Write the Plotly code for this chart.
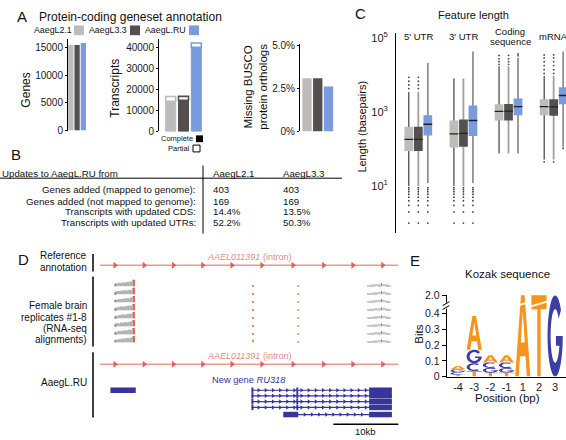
import math
import plotly.graph_objects as go

W, H = 566, 440
FONT = "Liberation Sans, Arial, Helvetica, sans-serif"


def PX(x):
    return x / W


def PY(y):
    return 1 - y / H


# ------------------------------------------------------------------ DATA
# Panel A
ASSEMBLIES = ["AaegL2.1", "AaegL3.3", "AaegL.RU"]
GENE_COUNTS = [15500, 15520, 15880]
TX_COMPLETE = [14400, 14900, 40300]
TX_PARTIAL = [2350, 1900, 2000]
BUSCO_MISSING_PCT = [3.10, 3.10, 2.62]
GENE_TICKS = [0, 5000, 10000, 15000]
TX_TICKS = [0, 10000, 20000, 30000, 40000]
BUSCO_TICKS = [0, 2.5, 5.0]
BUSCO_TICKTEXT = ["0%", "2.5%", "5.0%"]

# Panel B
TABLE_HEADER = ["Updates to AaegL.RU from", "AaegL2.1", "AaegL3.3"]
TABLE_ROWS = ["Genes added (mapped to genome):",
              "Genes added (not mapped to genome):",
              "Transcripts with updated CDS:",
              "Transcripts with updated UTRs:"]
TABLE_L21 = ["403", "169", "14.4%", "52.2%"]
TABLE_L33 = ["403", "169", "13.5%", "50.3%"]

# Panel C  (feature x assembly), lengths in bp
FEATURE_LABELS = [["5' UTR"], ["3' UTR"], ["Coding", "sequence"], ["mRNA"]]
LEN_Q1 = [[88, 88, 232], [110, 115, 224], [590, 590, 820], [820, 800, 1620]]
LEN_MED = [[182, 182, 468], [257, 265, 590], [1040, 1060, 1400], [1400, 1380, 2800]]
LEN_Q3 = [[398, 398, 820], [590, 630, 1500], [1620, 1650, 2340], [2230, 2230, 4700]]
LEN_UPPER = [[3470, 3470, 21000], [8100, 8100, 43000], [17400, 17400, 29000], [9500, 9500, 43000]]
LEN_LOWER = [[10, 10, 12], [10, 10, 12], [76, 76, 76], [52, 52, 115]]
LEN_OUT_HIGH = [
    [[4300, 5400, 6800, 8700], [4300, 5400, 6800, 8700], []],
    [[], [], []],
    [[19500, 23000, 27500, 34000], [19500, 23000, 27500, 34000], [33000, 37000]],
    [[11000, 14000, 18000, 23000, 29000, 35000], [11000, 14000, 18000, 23000, 29000, 35000], []],
]
LEN_OUT_LOW = [
    [[1, 2, 3, 4, 5, 6, 7, 8, 9], [1, 2, 3, 4, 5, 6, 7, 8, 9], [1, 2, 3, 4, 5, 6, 7, 8, 9]],
    [[1, 2, 3, 4, 5, 6, 7, 8, 9], [1, 2, 3, 4, 5, 6, 7, 8, 9], [1, 2, 3, 4, 5, 6, 7, 8, 9]],
    [[], [], []],
    [[45], [45], [105]],
]
LEN_TICKS = [10, 1000, 100000]
LEN_TICKTEXT = ["10<sup>1</sup>", "10<sup>3</sup>", "10<sup>5</sup>"]

# Panel D  (genomic coordinates in kb)
REF_GENE_SPAN_KB = [0.0, 45.9]
REF_STRAND_ARROWS_KB = [2.3, 6.8, 11.3, 15.8, 20.3, 24.9, 29.7, 34.4, 38.9, 43.5]
COV_LOCUS1_KB = [2.45, 2.75, 3.05, 3.35, 3.65, 3.95, 4.25, 4.55, 4.85, 5.15]
COV_LOCUS1 = [
    [0.35, 0.45, 0.55, 0.50, 0.60, 0.55, 0.65, 0.70, 0.75, 1.00],
    [0.30, 0.50, 0.50, 0.55, 0.60, 0.60, 0.60, 0.65, 0.70, 1.00],
    [0.35, 0.40, 0.50, 0.50, 0.55, 0.60, 0.65, 0.60, 0.75, 0.95],
    [0.30, 0.45, 0.55, 0.60, 0.55, 0.60, 0.70, 0.70, 0.75, 1.00],
    [0.25, 0.40, 0.50, 0.55, 0.60, 0.55, 0.65, 0.70, 0.70, 0.95],
    [0.30, 0.50, 0.45, 0.60, 0.55, 0.65, 0.60, 0.70, 0.80, 1.00],
    [0.30, 0.40, 0.55, 0.50, 0.60, 0.60, 0.65, 0.75, 0.70, 1.00],
    [0.35, 0.45, 0.50, 0.55, 0.60, 0.60, 0.70, 0.65, 0.75, 0.95],
]
COV_LOCUS4_KB = [41.3, 41.7, 42.1, 42.5, 42.9, 43.3, 43.7, 44.1, 44.5]
COV_LOCUS4 = [
    [0.20, 0.25, 0.30, 0.35, 0.30, 0.40, 0.35, 0.30, 0.20],
    [0.20, 0.20, 0.30, 0.30, 0.35, 0.40, 0.40, 0.30, 0.20],
    [0.15, 0.25, 0.30, 0.35, 0.35, 0.45, 0.35, 0.25, 0.20],
    [0.20, 0.25, 0.25, 0.35, 0.30, 0.40, 0.40, 0.30, 0.15],
    [0.20, 0.20, 0.30, 0.30, 0.35, 0.35, 0.40, 0.30, 0.20],
    [0.15, 0.25, 0.30, 0.30, 0.35, 0.40, 0.35, 0.30, 0.20],
    [0.20, 0.25, 0.25, 0.35, 0.30, 0.45, 0.40, 0.25, 0.20],
    [0.15, 0.20, 0.30, 0.30, 0.35, 0.40, 0.35, 0.30, 0.15],
]
COV_SPOT_KB = [23.5, 30.5]
COV_SPOTS = [[0.20, 0.15], [0.18, 0.18], [0.18, 0.15], [0.20, 0.15],
             [0.18, 0.18], [0.18, 0.15], [0.20, 0.18], [0.40, 0.22]]
MISMATCH_RED_KB = [5.2, 43.3]
MISMATCH_RED = [1.0, 0.45]
MISMATCH_BLUE_KB = [2.4]
MISMATCH_BLUE = [0.4]
RU_SINGLE_EXON_KB = [1.6, 5.5]
RU318_TRANSCRIPTS_KB = [
    [(23.3, 23.6), (30.2, 30.5), (41.4, 44.9)],
    [(23.3, 23.6), (30.2, 30.5), (41.4, 44.9)],
    [(23.3, 23.6), (30.2, 30.5), (41.4, 44.9)],
    [(23.3, 23.6), (30.2, 30.5), (41.4, 44.9)],
    [(28.2, 30.5), (41.4, 44.9)],
]
SCALE_BAR_KB = 10

# Panel E  (information content, bits)
LOGO_POS = ["-4", "-3", "-2", "-1", "1", "2", "3"]
BITS_A = [0.022, 0.215, 0.045, 0.045, 2.0, 0.0, 0.0]
BITS_C = [0.016, 0.050, 0.035, 0.036, 0.0, 0.0, 0.0]
BITS_G = [0.018, 0.085, 0.030, 0.028, 0.0, 0.0, 2.0]
BITS_T = [0.012, 0.035, 0.025, 0.026, 0.0, 2.0, 0.0]
BITS_TICKS = [0, 0.1, 0.2, 0.3, 0.4, 2.0]

# ------------------------------------------------------------------ STYLE
ASM_COLORS = ["#bebcba", "#545050", "#7b9cdc"]
WHISKER_COLORS = ["#1a1a1a", "#a0a0a0", "#909090"]
WHISKER_WIDTHS = [1.0, 1.8, 1.8]
RED_LINE = "#ec9a91"
RED_ARROW = "#e0625a"
RED_TEXT = "#e58a80"
GENE_BLUE = "#35359c"
COV_GRAY = "#b4b4b4"
LOGO_COLORS = {"A": "#f7941e", "T": "#f7941e", "C": "#3d3da6", "G": "#3d3da6"}

fig = go.Figure()
annotations = []
shapes = []


def ann(text, x, y, size=10, xanchor="center", yanchor="middle", color="#111111",
        angle=0, xref="paper", yref="paper", align="center"):
    annotations.append(dict(
        text=text, x=PX(x) if xref == "paper" else x, y=PY(y) if yref == "paper" else y,
        xref=xref, yref=yref, showarrow=False, xanchor=xanchor, yanchor=yanchor,
        textangle=angle, align=align, borderpad=0,
        font=dict(size=size, color=color, family=FONT)))


def pline(x0, y0, x1, y1, color="black", width=1):
    shapes.append(dict(type="line", xref="paper", yref="paper",
                       x0=PX(x0), y0=PY(y0), x1=PX(x1), y1=PY(y1),
                       line=dict(color=color, width=width)))


def prect(x0, y0, x1, y1, fill, line_color=None, width=0):
    shapes.append(dict(type="rect", xref="paper", yref="paper",
                       x0=PX(x0), y0=PY(y0), x1=PX(x1), y1=PY(y1),
                       fillcolor=fill, line=dict(color=line_color or fill, width=width)))


# ------------------------------------------------------------------ PANEL A
idx = list(range(len(ASSEMBLIES)))
fig.add_trace(go.Bar(x=idx, y=GENE_COUNTS, width=0.84, xaxis="x", yaxis="y",
                     marker=dict(color=ASM_COLORS, line=dict(width=0))))
fig.add_trace(go.Bar(x=idx, y=TX_COMPLETE, width=0.78, xaxis="x2", yaxis="y2",
                     marker=dict(color=ASM_COLORS, line=dict(color=ASM_COLORS, width=1))))
fig.add_trace(go.Bar(x=idx, y=TX_PARTIAL, base=TX_COMPLETE, width=0.78, xaxis="x2", yaxis="y2",
                     marker=dict(color="white", line=dict(color=ASM_COLORS, width=1.6))))
fig.add_trace(go.Bar(x=idx, y=BUSCO_MISSING_PCT, width=0.87, xaxis="x3", yaxis="y3",
                     marker=dict(color=ASM_COLORS, line=dict(width=0))))

ann("A", 22, 11, size=15)
ann("Protein-coding geneset annotation", 38, 11, size=12, xanchor="left")
legend_text_x = [53, 108, 166]
legend_sq_x = [74, 130, 189]
for i, name in enumerate(ASSEMBLIES):
    ann(name, legend_text_x[i], 25, size=8.8)
    prect(legend_sq_x[i], 20, legend_sq_x[i] + 10, 30, ASM_COLORS[i])
ann("Genes", 26, 87, size=12, angle=-90)
ann("Transcripts", 115, 85, size=12, angle=-90)
ann("Missing BUSCO<br>protein orthologs", 256, 83, size=11.5, angle=-90)
ann("Complete", 194, 136.5, size=7.5, xanchor="right")
prect(196, 133, 203, 140, "black")
ann("Partial", 191, 146.5, size=7.5, xanchor="right")
prect(193, 143, 200, 150, "white", "black", 1)

# ------------------------------------------------------------------ PANEL B
ann("B", 16, 153, size=15)
ann(TABLE_HEADER[0], 1, 172, size=9.7, xanchor="left")
ann(TABLE_HEADER[1], 212, 172, size=9.7, xanchor="left")
ann(TABLE_HEADER[2], 282, 172, size=9.7, xanchor="left")
pline(0, 177, 342, 177, width=1)
pline(203, 164, 203, 234, width=1)
row_y = [189, 200.5, 211.5, 223]
for i, lab in enumerate(TABLE_ROWS):
    ann(lab, 197, row_y[i], size=9.7, xanchor="right")
    ann(TABLE_L21[i], 212, row_y[i], size=9.7, xanchor="left")
    ann(TABLE_L33[i], 282, row_y[i], size=9.7, xanchor="left")

# ------------------------------------------------------------------ PANEL C
GROUP_STEP = 4.75
BOX_W = 0.92


def cpos(g, s):
    return g * GROUP_STEP + s


for s in range(3):
    wx, wy = [], []
    for g in range(4):
        p = cpos(g, s)
        wx += [p, p, None]
        wy += [LEN_LOWER[g][s], LEN_UPPER[g][s], None]
    fig.add_trace(go.Scatter(x=wx, y=wy, mode="lines", xaxis="x4", yaxis="y4",
                             line=dict(color=WHISKER_COLORS[s], width=WHISKER_WIDTHS[s])))
for s in range(3):
    bx, by = [], []
    for g in range(4):
        p = cpos(g, s)
        h = BOX_W / 2
        bx += [p - h, p + h, p + h, p - h, p - h, None]
        by += [LEN_Q1[g][s], LEN_Q1[g][s], LEN_Q3[g][s], LEN_Q3[g][s], LEN_Q1[g][s], None]
    fig.add_trace(go.Scatter(x=bx, y=by, mode="lines", fill="toself", fillcolor=ASM_COLORS[s],
                             line=dict(width=0, color=ASM_COLORS[s]), xaxis="x4", yaxis="y4"))
mx, my = [], []
for s in range(3):
    for g in range(4):
        p = cpos(g, s)
        mx += [p - BOX_W / 2, p + BOX_W / 2, None]
        my += [LEN_MED[g][s], LEN_MED[g][s], None]
fig.add_trace(go.Scatter(x=mx, y=my, mode="lines", line=dict(color="#202020", width=1.3),
                         xaxis="x4", yaxis="y4"))
ox, oy = [], []
for s in range(3):
    for g in range(4):
        for v in LEN_OUT_HIGH[g][s] + LEN_OUT_LOW[g][s]:
            ox.append(cpos(g, s))
            oy.append(v)
fig.add_trace(go.Scatter(x=ox, y=oy, mode="markers", xaxis="x4", yaxis="y4",
                         marker=dict(size=1.8, color="#444444", line=dict(width=0))))

ann("C", 360, 8, size=15)
ann("Feature length", 473, 9, size=11)
ann("Length (basepairs)", 362, 124, size=11, angle=-90)
for g, lines in enumerate(FEATURE_LABELS):
    if len(lines) == 1:
        ann(lines[0], cpos(g, 1), 31.5, size=9.5, xref="x4")
    else:
        ann(lines[0], cpos(g, 1) + 0.2, 26.5, size=9.5, xref="x4")
        ann(lines[1], cpos(g, 1) + 0.2, 36.5, size=9.5, xref="x4")

# ------------------------------------------------------------------ PANEL D
D_TOP = 255
ref_y = 266.5 - D_TOP
cov_base = [288 - D_TOP + 8.25 * i for i in range(8)]
COV_H = 6.5
ru_y = 368.3 - D_TOP
tx_rows = [395 - D_TOP, 400.7 - D_TOP, 406.7 - D_TOP, 412.7 - D_TOP, 420 - D_TOP]
scale_y = 430 - D_TOP

for yy in (ref_y, ru_y):
    fig.add_trace(go.Scatter(x=REF_GENE_SPAN_KB, y=[yy, yy], mode="lines", xaxis="x5", yaxis="y5",
                             line=dict(color=RED_LINE, width=1.6)))
    fig.add_trace(go.Scatter(x=REF_STRAND_ARROWS_KB, y=[yy] * len(REF_STRAND_ARROWS_KB),
                             mode="markers", xaxis="x5", yaxis="y5",
                             marker=dict(symbol="triangle-right", size=6, color=RED_ARROW,
                                         line=dict(width=0))))


def cov_trace(xs_kb, rows, width, color):
    bx, bb, bh = [], [], []
    for i, row in enumerate(rows):
        for x, v in zip(xs_kb, row):
            bx.append(x)
            bb.append(cov_base[i])
            bh.append(-v * COV_H)
    fig.add_trace(go.Bar(x=bx, y=bh, base=bb, width=width, xaxis="x5", yaxis="y5",
                         marker=dict(color=color, line=dict(width=0))))


cov_trace(COV_LOCUS1_KB, COV_LOCUS1, 0.3, COV_GRAY)
cov_trace(COV_LOCUS4_KB, COV_LOCUS4, 0.4, "#c4c4c4")
cov_trace(COV_SPOT_KB[:1], [[r[0]] for r in COV_SPOTS], 0.15, "#d8905e")
cov_trace(COV_SPOT_KB[1:], [[r[1]] for r in COV_SPOTS], 0.3, "#d4b888")
cov_trace(MISMATCH_RED_KB, [MISMATCH_RED] * 8, 0.12, "#e8665c")
cov_trace(MISMATCH_BLUE_KB, [MISMATCH_BLUE] * 8, 0.12, "#7385d8")

# RU gene models
fig.add_trace(go.Scatter(x=RU_SINGLE_EXON_KB, y=[tx_rows[0]] * 2, mode="lines", xaxis="x5", yaxis="y5",
                         line=dict(color=GENE_BLUE, width=5.5)))
ix, iy, cx, cy, ex, ey = [], [], [], [], [], []
for r, exons in enumerate(RU318_TRANSCRIPTS_KB):
    yy = tx_rows[r]
    start, end = exons[0][0], exons[-1][1]
    ix += [start, end, None]
    iy += [yy, yy, None]
    k = start + 1.1
    while k < end - 0.3:
        inside = any(a <= k <= b for a, b in exons)
        if not inside:
            cx.append(k)
            cy.append(yy)
        k += 1.1
    for a, b in exons:
        ex += [a, b, None]
        ey += [yy, yy, None]
fig.add_trace(go.Scatter(x=ix, y=iy, mode="lines", xaxis="x5", yaxis="y5",
                         line=dict(color=GENE_BLUE, width=1.2)))
fig.add_trace(go.Scatter(x=cx, y=cy, mode="markers", xaxis="x5", yaxis="y5",
                         marker=dict(symbol="triangle-right", size=4, color=GENE_BLUE, line=dict(width=0))))
fig.add_trace(go.Scatter(x=ex, y=ey, mode="lines", xaxis="x5", yaxis="y5",
                         line=dict(color=GENE_BLUE, width=5.5)))
# scale bar
sb_end = REF_GENE_SPAN_KB[1]
fig.add_trace(go.Scatter(x=[sb_end - SCALE_BAR_KB, sb_end], y=[scale_y, scale_y], mode="lines",
                         xaxis="x5", yaxis="y5", line=dict(color="black", width=1.5)))
ann("10kb", sb_end - SCALE_BAR_KB / 2, 437 - D_TOP, size=9.5, xref="x5", yref="y5")

mid_kb = sum(REF_GENE_SPAN_KB) / 2
ann("<i>AAEL011391</i> (intron)", mid_kb, 258.5 - D_TOP, size=9, color=RED_TEXT, xref="x5", yref="y5")
ann("<i>AAEL011391</i> (intron)", mid_kb, 359.5 - D_TOP, size=9, color=RED_TEXT, xref="x5", yref="y5")
ann("New gene <i>RU318</i>", mid_kb, 385 - D_TOP, size=9.3, color=GENE_BLUE, xref="x5", yref="y5")

ann("D", 23, 261, size=15)
ann("Reference", 88, 257, size=10, xanchor="right")
ann("annotation", 88, 269, size=10, xanchor="right")
for t, yy in zip(["Female brain", "replicates #1-8", "(RNA-seq", "alignments)"], [308, 320, 331.5, 343]):
    ann(t, 88, yy, size=10, xanchor="right")
ann("AaegL.RU", 88, 387, size=10, xanchor="right")
pline(93, 255, 93, 273, width=1.5)
pline(93, 278, 93, 350, width=1.5)
pline(93, 356, 93, 423, width=1.5)

# ------------------------------------------------------------------ PANEL E
BREAK_AT = 0.45


def disp(v):
    return v if v <= BREAK_AT else BREAK_AT + (v - BREAK_AT) * 0.065 / 1.55


def arc(rx, ry, a0, a1, n):
    out = []
    for k in range(n + 1):
        a = math.radians(a0 + (a1 - a0) * k / n)
        out.append((0.5 + rx * math.cos(a), 0.5 + ry * math.sin(a)))
    return out


def glyph(letter):
    if letter == "A":
        outer = [(0, 0), (0.38, 1), (0.62, 1), (1, 0), (0.76, 0), (0.68, 0.25), (0.32, 0.25), (0.24, 0)]
        hole = [(0.37, 0.42), (0.5, 0.8), (0.63, 0.42)]
        return [outer, hole], "evenodd"
    if letter == "T":
        return [[(0, 1), (1, 1), (1, 0.83), (0.61, 0.83), (0.61, 0), (0.39, 0), (0.39, 0.83), (0, 0.83)]], "nonzero"
    if letter == "C":
        return [arc(0.5, 0.5, 50, 310, 30) + arc(0.3, 0.33, 310, 50, 30)], "nonzero"
    th = 360 + math.degrees(math.asin((0.38 - 0.5) / 0.33))
    poly = arc(0.5, 0.5, 40, 360, 30) + [(1.0, 0.5), (0.55, 0.5), (0.55, 0.38)] + arc(0.3, 0.33, th, 40, 30)
    return [poly], "nonzero"


LETTER_W = 0.94
bits = {"A": BITS_A, "C": BITS_C, "G": BITS_G, "T": BITS_T}
for i in range(len(LOGO_POS)):
    stack = sorted([(bits[L][i], L) for L in "ACGT" if bits[L][i] > 0])
    cum = 0.0
    for b, L in stack:
        y0, y1 = disp(cum), disp(cum + b)
        cum += b
        polys, rule = glyph(L)
        x0 = i - LETTER_W / 2
        parts = []
        for poly in polys:
            pts = ["%.4f,%.5f" % (x0 + u * LETTER_W, y0 + v * (y1 - y0)) for u, v in poly]
            parts.append("M" + " L".join(pts) + " Z")
        shapes.append(dict(type="path", xref="x6", yref="y6", path=" ".join(parts),
                           fillcolor=LOGO_COLORS[L], fillrule=rule, line=dict(width=0), layer="above"))
# break marks across the tall A and T letters
for i in range(len(LOGO_POS)):
    if max(bits["A"][i], bits["T"][i]) > BREAK_AT:
        shapes.append(dict(type="line", xref="x6", yref="y6", x0=i - 0.5, x1=i + 0.5,
                           y0=BREAK_AT - 0.005, y1=BREAK_AT + 0.025, line=dict(color="white", width=1.8)))
# axis break on y axis
prect(444, 305, 449, 311, "white")
pline(442.5, 308, 449.5, 304, width=1)
pline(442.5, 312, 449.5, 308, width=1)

ann("E", 415, 262, size=15)
ann("Kozak sequence", 507, 276, size=11.5)
ann("Bits", 419, 338, size=11.5, angle=-90)
ann("Position (bp)", 507, 403, size=11.5)

# ------------------------------------------------------------------ LAYOUT
axis_common = dict(showgrid=False, zeroline=False, fixedrange=True)
yax_common = dict(showline=True, linecolor="black", linewidth=1, ticks="outside", ticklen=2,
                  tickcolor="black", tickfont=dict(size=10, color="#1a1a1a"), **axis_common)

fig.update_layout(
    width=W, height=H, margin=dict(l=0, r=0, t=0, b=0),
    paper_bgcolor="white", plot_bgcolor="rgba(0,0,0,0)",
    barmode="overlay", showlegend=False,
    font=dict(family=FONT, color="#1a1a1a"),
    xaxis=dict(domain=[PX(68), PX(86.5)], range=[-0.45, 2.5], visible=False, **axis_common),
    yaxis=dict(domain=[PY(128), PY(34)], range=[0, 16590], anchor="x", tickformat="d",
               tickvals=GENE_TICKS, **yax_common),
    xaxis2=dict(domain=[PX(159), PX(203.5)], range=[-0.914, 2.56], visible=False, anchor="y2", **axis_common),
    yaxis2=dict(domain=[PY(129), PY(34)], range=[0, 44190], anchor="x2", tickformat="d",
                tickvals=TX_TICKS, **yax_common),
    xaxis3=dict(domain=[PX(300), PX(336)], range=[-0.65, 2.70], visible=False, anchor="y3", **axis_common),
    yaxis3=dict(domain=[PY(129), PY(39)], range=[0, 5.1], anchor="x3",
                tickvals=BUSCO_TICKS, ticktext=BUSCO_TICKTEXT, **yax_common),
    xaxis4=dict(domain=[PX(396), 1.0], range=[-1.35, 16.55], visible=False, anchor="y4", **axis_common),
    yaxis4=dict(domain=[PY(233), PY(28)], type="log", range=[-0.26, 5.13], anchor="x4",
                showline=True, linecolor="black", linewidth=1, ticks="", ticklabelstandoff=5,
                tickvals=LEN_TICKS, ticktext=LEN_TICKTEXT, tickfont=dict(size=11, color="#1a1a1a"),
                **axis_common),
    xaxis5=dict(domain=[PX(100), PX(400)], range=[0, 46.15], visible=False, anchor="y5", **axis_common),
    yaxis5=dict(domain=[0, PY(D_TOP)], range=[440 - D_TOP, 0], visible=False, anchor="x5", **axis_common),
    xaxis6=dict(domain=[PX(446.7), 1.0], range=[-0.7, 6.67], anchor="y6", showline=True,
                linecolor="black", linewidth=1, ticks="", tickvals=list(range(len(LOGO_POS))),
                ticktext=LOGO_POS, tickfont=dict(size=11, color="#1a1a1a"), **axis_common),
    yaxis6=dict(domain=[PY(381), PY(297)], range=[0, 0.518], anchor="x6",
                tickvals=[disp(v) for v in BITS_TICKS], ticktext=["0", "0.1", "0.2", "0.3", "0.4", "2.0"],
                showline=True, linecolor="black", linewidth=1, ticks="outside", ticklen=4,
                tickcolor="black", tickfont=dict(size=10.5, color="#1a1a1a"), **axis_common),
    annotations=annotations,
    shapes=shapes,
)

fig.write_html("out.html", config={"displayModeBar": False},
               post_script="document.body.style.margin='0px';document.body.style.padding='0px';"
                           "document.body.style.overflow='hidden';")
